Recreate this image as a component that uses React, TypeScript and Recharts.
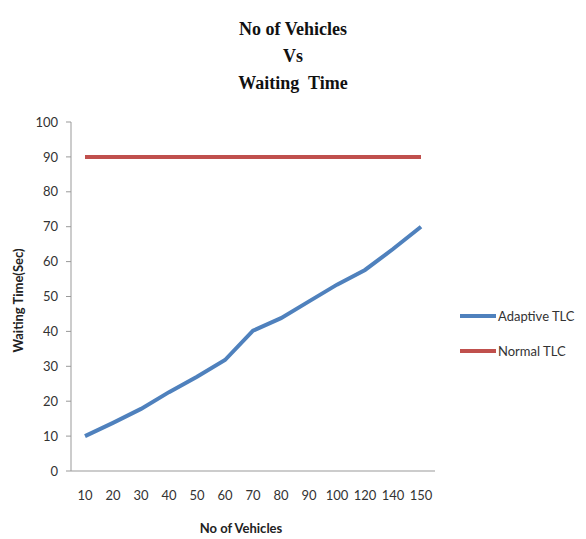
import { LineChart, Line, XAxis, YAxis } from "recharts";

const vehicles = ["10", "20", "30", "40", "50", "60", "70", "80", "90", "100", "120", "140", "150"];
const adaptiveTLC = [10, 13.8, 17.8, 22.6, 27, 31.8, 40.2, 43.8, 48.6, 53.4, 57.6, 63.6, 70];
const normalTLC = [90, 90, 90, 90, 90, 90, 90, 90, 90, 90, 90, 90, 90];
const yTicks = [0, 10, 20, 30, 40, 50, 60, 70, 80, 90, 100];

const data = vehicles.map((v, i) => ({
  v,
  "Adaptive TLC": adaptiveTLC[i],
  "Normal TLC": normalTLC[i],
}));

const font = "Lato, 'Liberation Sans', sans-serif";
const series = [
  { key: "Adaptive TLC", color: "#4f81bd" },
  { key: "Normal TLC", color: "#c0504d" },
];

export default function App() {
  return (
    <div style={{ position: "absolute", left: 0, top: 0, width: 586, height: 539, background: "#fff" }}>
      <div
        style={{
          position: "absolute", left: 0, top: 16, width: 586, textAlign: "center",
          fontFamily: "'Liberation Serif', serif", fontWeight: "bold", fontSize: 18,
          lineHeight: "27px", color: "#111",
        }}
      >
        <div>No of Vehicles</div>
        <div>Vs</div>
        <div>Waiting&nbsp; Time</div>
      </div>
      <LineChart width={586} height={539} data={data} margin={{ top: 122, right: 151, bottom: 28, left: 11 }}>
        <XAxis
          dataKey="v"
          height={40}
          padding={{ left: 14, right: 14 }}
          tickLine={false}
          axisLine={{ stroke: "#999" }}
          tick={{ fill: "#333", fontSize: 13, fontFamily: font }}
          tickMargin={14}
          interval={0}
          label={{ value: "No of Vehicles", position: "insideBottom", offset: -22, dx: -12, fill: "#222", fontSize: 13, fontWeight: "bold", fontFamily: font }}
        />
        <YAxis
          width={60}
          domain={[0, 100]}
          ticks={yTicks}
          tickSize={5}
          tickMargin={8}
          tickLine={{ stroke: "#999" }}
          axisLine={{ stroke: "#999" }}
          tick={{ fill: "#333", fontSize: 13, fontFamily: font }}
          label={{ value: "Waiting Time(Sec)", angle: -90, position: "insideLeft", offset: 7, dy: 4, fill: "#222", fontSize: 13, fontWeight: "bold", fontFamily: font, style: { textAnchor: "middle" } }}
        />
        {series.map(({ key, color }) => (
          <Line key={key} type="linear" dataKey={key} stroke={color} strokeWidth={4} dot={false} isAnimationActive={false} />
        ))}
      </LineChart>
      <div style={{ position: "absolute", left: 460, top: 298, fontFamily: font, fontSize: 13, color: "#333" }}>
        {series.map(({ key, color }) => (
          <div key={key} style={{ display: "flex", alignItems: "center", height: 35 }}>
            <div style={{ width: 36, height: 4, background: color }} />
            <span style={{ marginLeft: 2 }}>{key}</span>
          </div>
        ))}
      </div>
    </div>
  );
}
